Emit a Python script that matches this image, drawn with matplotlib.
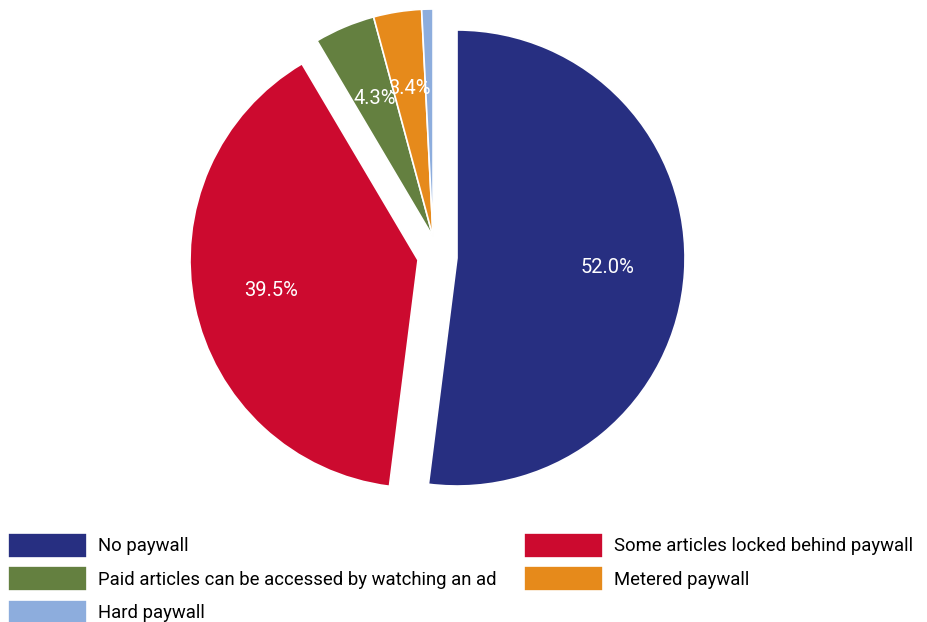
import matplotlib
matplotlib.use("Agg")
import matplotlib.pyplot as plt

plt.rcParams['font.family'] = ['Roboto', 'DejaVu Sans']

# Share of sites by paywall type (%)
categories = [
    "No paywall",
    "Some articles locked behind paywall",
    "Paid articles can be accessed by watching an ad",
    "Metered paywall",
    "Hard paywall",
]
shares = [52.0, 39.5, 4.3, 3.4, 0.8]
colors = ["#272f81", "#cc0a2f", "#648040", "#e68a1b", "#8daddd"]

# wedge offsets in radius units (small slices share one apex)
offsets = [(0.0, 0.0), (-0.171, -0.009), (-0.105, 0.092), (-0.105, 0.092), (-0.105, 0.092)]

W, H = 928, 622
R_PX = 228.0          # pie radius in pixels
CX, CY = 457.0, 258.0  # pie centre, pixels from top-left

fig = plt.figure(figsize=(W / 100, H / 100), dpi=100)
ax = fig.add_axes([0, 0, 1, 1])

wedges, texts, autotexts = ax.pie(
    shares,
    colors=colors,
    startangle=90,
    counterclock=False,
    radius=1.0,
    autopct=lambda p: f"{p:.1f}%" if p >= 1 else "",
    pctdistance=0.66,
    wedgeprops=dict(edgecolor="white", linewidth=1.2),
    textprops=dict(color="white", fontsize=14.5),
)

for w, t, (dx, dy) in zip(wedges, autotexts, offsets):
    w.set_center((dx, dy))
    x, y = t.get_position()
    t.set_position((x + dx, y + dy))

ax.set_xlim(-CX / R_PX, (W - CX) / R_PX)
ax.set_ylim(-(H - CY) / R_PX, CY / R_PX)
ax.set_aspect("auto")
ax.axis("off")

# legend, filled column-wise: left column then right column
order = [0, 2, 4, 1, 3]
fig.legend(
    [wedges[i] for i in order],
    [categories[i] for i in order],
    loc="upper left",
    bbox_to_anchor=(8 / W, 1 - 533 / H),
    ncol=2,
    frameon=False,
    fontsize=13.3,
    handlelength=4.3,
    handleheight=1.7,
    handletextpad=0.55,
    labelspacing=0.45,
    columnspacing=1.5,
    borderpad=0,
    borderaxespad=0,
)

fig.savefig("out.png", dpi=100)
